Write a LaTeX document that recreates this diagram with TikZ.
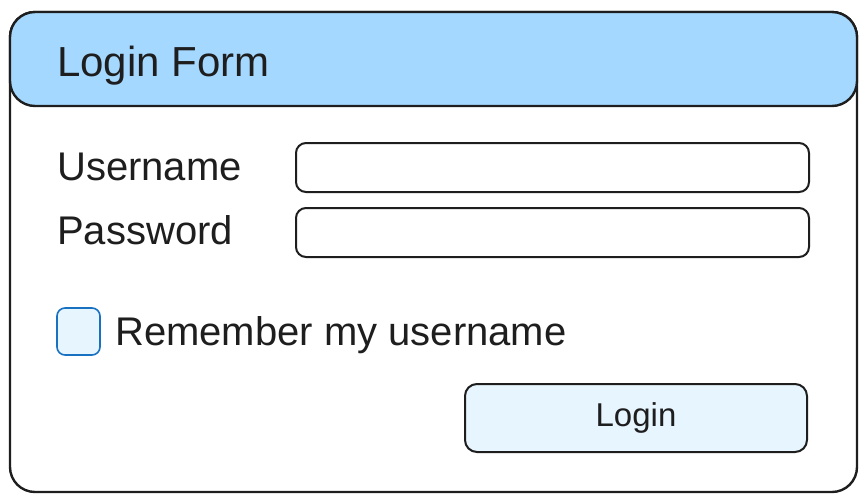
\documentclass[tikz,border=0pt]{standalone}
\usepackage{fontspec}
\setmainfont{Liberation Sans}
\usetikzlibrary{positioning}

\definecolor{ink}{HTML}{1E1E1E}
\definecolor{headblue}{HTML}{A5D8FF}
\definecolor{paleblue}{HTML}{E7F5FF}
\definecolor{checkblue}{HTML}{1971C2}

\tikzstyle{frame} = [rectangle, rounded corners=25pt, minimum width=847pt, minimum height=480pt, inner sep=0pt, draw=ink, line width=2.4pt, fill=white]
\tikzstyle{header} = [rectangle, rounded corners=25pt, minimum width=847pt, minimum height=94pt, inner sep=0pt, draw=ink, line width=2.4pt, fill=headblue]
\tikzstyle{field} = [rectangle, rounded corners=10pt, minimum width=513pt, minimum height=49pt, inner sep=0pt, draw=ink, line width=2pt, fill=white]
\tikzstyle{checkbox} = [rectangle, rounded corners=8pt, minimum width=43pt, minimum height=47pt, inner sep=0pt, draw=checkblue, line width=1.6pt, fill=paleblue]
\tikzstyle{button} = [rectangle, rounded corners=12pt, minimum width=342pt, minimum height=68pt, inner sep=0pt, draw=ink, line width=2pt, fill=paleblue, text=ink, font=\fontsize{33}{35}\selectfont]
\tikzstyle{label} = [inner sep=0pt, anchor=base west, text=ink, font=\fontsize{40}{42}\selectfont]

\begin{document}
\begin{tikzpicture}[x=1pt, y=-1pt]
  \useasboundingbox (0,0) rectangle (867,501);

  \node (form) [frame] at (433.5,252) {};
  \node (head) [header] at (433.5,59) {};
  \node (title) [label, font=\fontsize{42}{44}\selectfont] at (57,76) {Login Form};

  \node (userfield) [field] at (552.5,167.5) {};
  \node (passfield) [field, below=14pt of userfield] {};
  \node (userlabel) [label] at (57,180) {Username};
  \node (passlabel) [label] at (57,244) {Password};

  \node (remember) [checkbox] at (78.5,331.5) {};
  \node (rememberlabel) [label] at (115,345) {Remember my username};

  \node (login) [button] at (636,418) {Login};
\end{tikzpicture}
\end{document}
